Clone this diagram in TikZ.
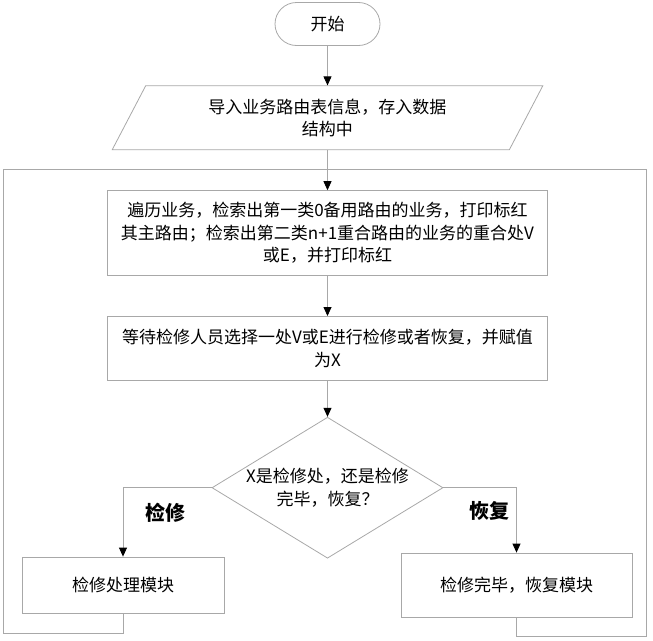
\documentclass[tikz,border=0pt]{standalone}
\usepackage{fontspec}
\setmainfont{Noto Sans CJK SC}
\usepackage{xcolor}
\usepackage{tikz}
\usetikzlibrary{positioning, arrows.meta, shapes.geometric}

\definecolor{linegray}{RGB}{168,168,168}

\tikzset{
  term/.style={draw, rectangle, rounded corners=21.5pt, minimum width=105pt, minimum height=43pt},
  io/.style={draw, trapezium, trapezium left angle=63.4, trapezium right angle=116.6,
    trapezium stretches=true, minimum width=431pt, minimum height=64pt, align=center},
  box/.style={draw, rectangle, minimum width=440pt, minimum height=64pt, align=center, inner sep=4pt},
  decision/.style={draw, diamond, aspect=1.64, inner sep=-3pt, minimum width=231pt,
    minimum height=141pt, align=center},
  tag/.style={inner sep=0pt, font=\fontsize{20}{24}\selectfont\bfseries}
}

\begin{document}
\begin{tikzpicture}[x=1pt,y=1pt,->,>={Triangle[color=black,width=8pt,length=9pt]},
    draw=linegray,line width=0.8pt,node distance=40pt,font=\fontsize{17}{22.5}\selectfont]
    \useasboundingbox (0,0) rectangle (653,-640);

    \node[term] (start) at (327.5,-24) {开始};
    \node[io] (load) [below=39.5pt of start] {导入业务路由表信息，存入数据\\结构中};
    \node[box, minimum height=85pt] (scan) [below=of load]
        {遍历业务，检索出第一类0备用路由的业务，打印标红\\其主路由；检索出第二类n+1重合路由的业务的重合处V\\或E，并打印标红};
    \node[box] (pick) [below=of scan] {等待检修人员选择一处V或E进行检修或者恢复，并赋值\\为X};
    \node[decision] (judge) [below=36pt of pick] {X是检修处，还是检修\\完毕，恢复？};
    \node[box, minimum width=202pt, minimum height=56pt] (fix) at (123,-585) {检修处理模块};
    \node[box, minimum width=231pt] (restore) at (516.5,-585) {检修完毕，恢复模块};

    \coordinate (loopL) at (3,-169);
    \coordinate (loopR) at (646,-169);

    \path (start) edge (load)
          (load) edge (scan)
          (scan) edge (pick)
          (pick) edge (judge);
    \draw (judge.west) -| node[tag, pos=0.68, right=22pt] {检修} (fix.north);
    \draw (judge.east) -| node[tag, pos=0.68, left=7pt] {恢复} (restore.north);

    % return lines
    \draw[-] (fix.south) -- ++(0,-20) -| (loopL) -- (loopR);
    \draw[-] (restore.south) -- ++(0,-19) -| (loopR);
\end{tikzpicture}
\end{document}
